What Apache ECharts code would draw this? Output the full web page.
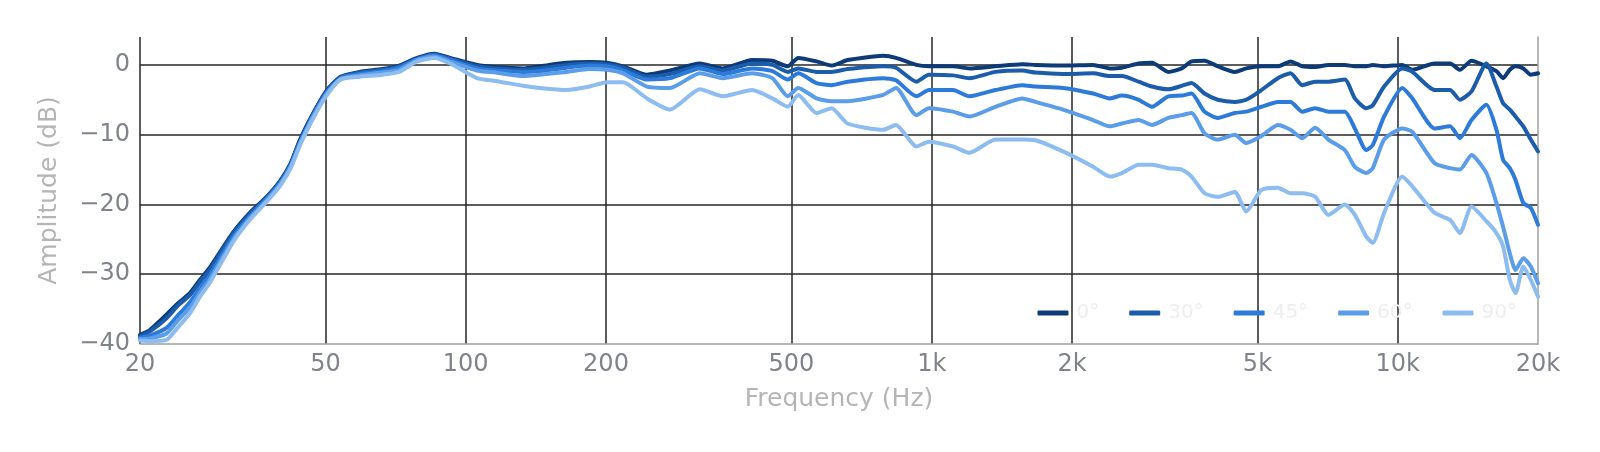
<!DOCTYPE html>
<html>
<head>
	<meta charset="utf-8">
	<title>Off-axis frequency response</title>
	<script src="https://cdn.jsdelivr.net/npm/echarts@6.0.0/dist/echarts.min.js"></script>
	<style>
		html, body { margin: 0; padding: 0; background: #fff; }
		#chart { width: 1600px; height: 452px; }
	</style>
</head>
<body>
<div id="chart"></div>
<script>
	// frequency points (Hz)
	const freqs = [20, 21, 22.8, 24.2, 25.6, 26.9, 28.2, 31.6, 34.4, 37.4, 39.9, 42.1, 44.1, 47.1, 50.4, 53.9, 59.2, 66.2, 72, 78.6,
		85.5, 92.6, 105.7, 116, 132.8, 144, 164.6, 184.6, 200.6, 217.6, 244.8, 274.5, 318, 356, 412, 455, 491, 517, 566, 610,
		660, 787, 838, 927, 986, 1111, 1205, 1370, 1565, 1670, 1913, 2220, 2410, 2560, 2780, 2970, 3220, 3440, 3610, 3850,
		4110, 4470, 4730, 5100, 5530, 5890, 6240, 6650, 7100, 7700, 8090, 8560, 8840, 9350, 10230, 10750, 12000, 12950, 13600, 14400,
		15500, 16290, 16830, 17400, 17900, 18600, 19300, 20000];

	// amplitude (dB) per angle
	const db0 = [-38.7, -38.0, -35.8, -34.1, -32.7, -30.8, -29.1, -24.1, -21.2, -18.9, -16.7, -14.1, -10.7, -6.9, -3.6, -1.7, -1.0, -0.6, -0.1, 1.0,
		1.6, 1.0, 0, -0.3, -0.5, -0.2, 0.3, 0.4, 0.3, -0.2, -1.4, -0.8, 0.2, -0.5, 0.7, 0.6, -0.2, 1.0, 0.5, -0.1,
		0.7, 1.3, 1.0, 0, -0.2, -0.2, -0.5, -0.2, 0.1, 0.0, -0.1, 0.0, -0.5, -0.4, 0.2, 0.3, -1.0, -0.5, 0.5, 0.6,
		-0.2, -1.0, -0.5, -0.2, -0.2, 0.5, -0.2, -0.3, 0.0, 0.0, -0.2, -0.2, 0.0, -0.2, 0.0, -0.7, 0.2, 0.2, -0.7, 0.6,
		-0.2, -0.9, -1.9, -0.7, -0.2, -0.5, -1.4, -1.2];
	const db30 = [-38.9, -38.2, -36.3, -34.4, -33.0, -31.1, -29.4, -24.3, -21.4, -19.0, -16.8, -14.2, -10.9, -7.0, -3.7, -1.8, -1.1, -0.7, -0.2, 0.9,
		1.5, 0.9, -0.2, -0.5, -0.7, -0.5, 0.0, 0.2, 0.1, -0.4, -1.7, -1.3, -0.2, -0.8, 0.2, 0.0, -1.0, -0.5, -1.0, -1.0,
		-0.6, -0.2, -0.4, -2.4, -1.4, -1.5, -1.9, -1.0, -0.8, -1.1, -1.3, -1.2, -1.6, -1.6, -2.4, -3.1, -3.5, -3.0, -2.6, -4.1,
		-5.0, -5.3, -5.0, -3.6, -1.9, -1.2, -2.9, -2.4, -2.4, -2.1, -4.8, -6.2, -5.8, -3.1, -0.5, -1.0, -3.6, -3.6, -5.0, -3.8,
		0.2, -3.1, -5.5, -6.4, -7.4, -8.8, -10.7, -12.4];
	const db45 = [-39.1, -38.8, -37.7, -35.8, -34.0, -32.0, -30.2, -24.8, -21.7, -19.2, -17.0, -14.4, -11.1, -7.2, -3.9, -1.9, -1.3, -0.9, -0.4, 0.8,
		1.4, 0.7, -0.5, -0.8, -1.0, -0.9, -0.4, -0.1, -0.2, -0.8, -2.1, -1.9, -0.5, -1.3, -0.5, -0.9, -2.1, -1.2, -2.6, -2.9,
		-2.4, -1.9, -2.2, -4.5, -3.6, -3.6, -4.5, -3.6, -2.9, -3.1, -3.3, -4.1, -4.8, -4.4, -5.0, -6.0, -4.5, -4.4, -4.1, -6.7,
		-7.6, -6.9, -6.7, -6.0, -5.3, -5.3, -6.7, -6.2, -6.7, -6.7, -9.1, -12.2, -11.5, -7.4, -3.3, -4.8, -9.1, -8.8, -10.5, -7.9,
		-5.7, -9.3, -13.6, -14.8, -16.5, -19.8, -20.5, -22.9];
	const db60 = [-39.3, -39.2, -38.5, -36.5, -34.8, -32.6, -30.8, -25.2, -22.0, -19.4, -17.2, -14.6, -11.3, -7.4, -4.1, -2.0, -1.5, -1.1, -0.7, 0.7,
		1.2, 0.5, -0.8, -1.1, -1.6, -1.4, -1.0, -0.6, -0.7, -1.2, -3.1, -3.3, -1.2, -1.9, -1.2, -1.9, -4.5, -3.3, -4.8, -5.2,
		-5.2, -4.3, -3.3, -7.2, -6.2, -6.7, -7.4, -6.0, -4.8, -5.3, -6.4, -7.9, -8.8, -8.4, -7.9, -8.6, -7.6, -7.2, -6.9, -9.8,
		-10.7, -10.0, -11.2, -10.2, -8.6, -9.3, -10.5, -9.0, -10.7, -12.2, -14.6, -15.5, -14.8, -10.7, -9.1, -9.6, -14.1, -14.8, -15.0, -12.9,
		-15.5, -19.8, -23.2, -27.0, -29.4, -27.7, -28.9, -31.3];
	const db90 = [-39.5, -39.6, -39.4, -37.5, -35.6, -33.2, -31.3, -25.5, -22.2, -19.6, -17.4, -14.8, -11.5, -7.6, -4.3, -2.1, -1.7, -1.4, -1.0, 0.5,
		1.0, 0.2, -1.9, -2.3, -3.0, -3.3, -3.6, -3.1, -2.5, -2.5, -4.8, -6.4, -3.5, -4.5, -3.6, -4.8, -6.0, -4.3, -6.9, -6.2,
		-8.4, -9.3, -8.6, -11.7, -11.0, -11.7, -12.6, -10.7, -10.7, -10.8, -12.4, -14.6, -16.0, -15.5, -14.3, -14.3, -14.8, -15.0, -16.0, -18.4,
		-18.9, -18.2, -21.0, -17.9, -17.6, -18.4, -18.4, -18.9, -21.5, -20.0, -21.5, -24.6, -25.5, -21.2, -16.0, -17.4, -21.2, -22.2, -24.1, -20.3,
		-22.4, -24.1, -26.0, -30.8, -32.7, -28.9, -30.8, -33.2];

	const angles = ['0°', '30°', '45°', '60°', '90°'];
	const colors = ['#0c3b78', '#1b5cab', '#2c7bdb', '#5b9de9', '#8cbcf0'];

	// tick positions
	const xLabelTicks = [20, 50, 100, 200, 500, 1000, 2000, 5000, 10000, 20000];
	const xGridTicks = [20, 50, 100, 200, 500, 1000, 2000, 5000, 10000];
	const yLabelTicks = [-40, -30, -20, -10, 0];
	const yGridTicks = [-30, -20, -10, 0];

	const font = 'DejaVu Sans';
	const lg = v => Math.log10(v);

	const chart = echarts.init(document.getElementById('chart'));

	const allSeries = [db0, db30, db45, db60, db90].map((vals, i) => ({
		name: angles[i],
		type: 'line',
		data: freqs.map((f, j) => [lg(f), vals[j]]),
		symbol: 'none',
		smooth: 0.2,
		clip: true,
		lineStyle: { color: colors[i], width: 4, cap: 'round', join: 'round' },
		itemStyle: { color: colors[i] }
	}));

	const option = {
		animation: false,
		backgroundColor: '#fff',
		grid: {
			left: 140,
			right: 62,
			top: 37,
			bottom: 108,
			containLabel: false,
			outerBoundsMode: 'none'
		},
		legend: {
			right: 78,
			top: 298,
			itemWidth: 31,
			itemHeight: 5,
			itemGap: 30,
			icon: 'roundRect',
			data: angles,
			textStyle: { color: '#eeeeee', fontSize: 20, fontFamily: font, padding: [0, 0, 0, 3] }
		},
		xAxis: {
			type: 'value',
			min: lg(20),
			max: lg(20000),
			name: 'Frequency (Hz)',
			nameLocation: 'middle',
			nameGap: 43,
			nameTextStyle: { color: '#b5b5b5', fontSize: 25, fontFamily: font },
			axisLine: { show: true, onZero: false, lineStyle: { color: '#a0a0a0', width: 1.5 } },
			axisTick: { show: false, customValues: xGridTicks.map(lg) },
			axisLabel: {
				customValues: xLabelTicks.map(lg),
				color: '#80848a',
				fontSize: 24,
				fontFamily: font,
				margin: 9,
				formatter: v => {
					const f = Math.round(Math.pow(10, v));
					return f >= 1000 ? (f / 1000) + 'k' : String(f);
				}
			},
			splitLine: { show: true, lineStyle: { color: '#262626', width: 1.5 } }
		},
		yAxis: [
			{
				type: 'value',
				min: -40,
				max: 4,
				name: 'Amplitude (dB)',
				nameLocation: 'middle',
				nameGap: 78,
				nameTextStyle: { color: '#b5b5b5', fontSize: 25, fontFamily: font },
				axisLine: { show: false, onZero: false },
				axisTick: { show: false, customValues: yGridTicks },
				axisLabel: {
					customValues: yLabelTicks,
					color: '#80848a',
					fontSize: 24,
					fontFamily: font,
					margin: 10,
					formatter: v => v < 0 ? '\u2212' + (-v) : String(v)
				},
				splitLine: { show: true, lineStyle: { color: '#262626', width: 1.5 } }
			},
			{
				// right spine only
				type: 'value',
				position: 'right',
				min: -40,
				max: 4,
				axisLine: { show: true, onZero: false, lineStyle: { color: '#a0a0a0', width: 1.5 } },
				axisTick: { show: false },
				axisLabel: { show: false },
				splitLine: { show: false }
			}
		],
		series: allSeries
	};

	chart.setOption(option);
</script>
</body>
</html>
